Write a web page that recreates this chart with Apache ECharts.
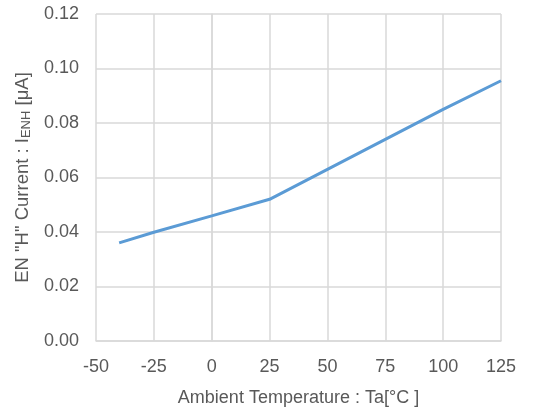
<!DOCTYPE html>
<html><head><meta charset="utf-8">
<script src="https://cdn.jsdelivr.net/npm/echarts@6/dist/echarts.min.js"></script>
<style>html,body{margin:0;padding:0;background:#fff}#c{width:553px;height:412px}</style>
</head><body><div id="c"></div>
<script>
const temps = [-40, -25, 0, 25, 50, 75, 100, 125];
const currents = [0.036, 0.0399, 0.0459, 0.052, 0.063, 0.074, 0.085, 0.0955];
const xTicks = [-50, 125, 25];
const yTicks = [0, 0.12, 0.02];
const chart = echarts.init(document.getElementById('c'));
const FONT = '"Liberation Sans", Arial, sans-serif';
const GREY = '#595959';
chart.setOption({
  animation: false,
  grid: {left: 96, right: 52, top: 14, bottom: 71, containLabel: false, outerBoundsMode: 'none'},
  xAxis: {
    type: 'value', min: xTicks[0], max: xTicks[1], interval: xTicks[2],
    name: 'Ambient Temperature : Ta[°C ]', nameLocation: 'middle', nameGap: 48,
    nameTextStyle: {color: GREY, fontSize: 18, fontFamily: FONT},
    axisLine: {show: true, lineStyle: {color: '#d9d9d9', width: 1.5}},
    axisTick: {show: false},
    axisLabel: {color: GREY, fontSize: 18, fontFamily: FONT, margin: 17},
    splitLine: {show: true, lineStyle: {color: '#d9d9d9', width: 1.5}}
  },
  yAxis: {
    type: 'value', min: yTicks[0], max: yTicks[1], interval: yTicks[2],
    name: '{n|EN "H" Current : I}{s|ENH}{n| [μA]}', nameLocation: 'middle', nameGap: 58,
    nameTextStyle: {color: GREY, fontSize: 18, fontFamily: FONT,
      rich: {n: {fontSize: 18.5, fontFamily: FONT, color: GREY},
             s: {fontSize: 13, fontFamily: FONT, color: GREY, verticalAlign: 'bottom', padding: [7,0,0,0]}}},
    axisLine: {show: true, lineStyle: {color: '#d9d9d9', width: 1.5}},
    axisTick: {show: false},
    axisLabel: {color: GREY, fontSize: 18, fontFamily: FONT, margin: 17,
      formatter: v => v.toFixed(2)},
    splitLine: {show: true, lineStyle: {color: '#d9d9d9', width: 1.5}}
  },
  series: [{
    type: 'line', data: temps.map((t, i) => [t, currents[i]]),
    showSymbol: false, lineStyle: {color: '#5b9bd5', width: 3},
    itemStyle: {color: '#5b9bd5'}
  }]
});
</script></body></html>
